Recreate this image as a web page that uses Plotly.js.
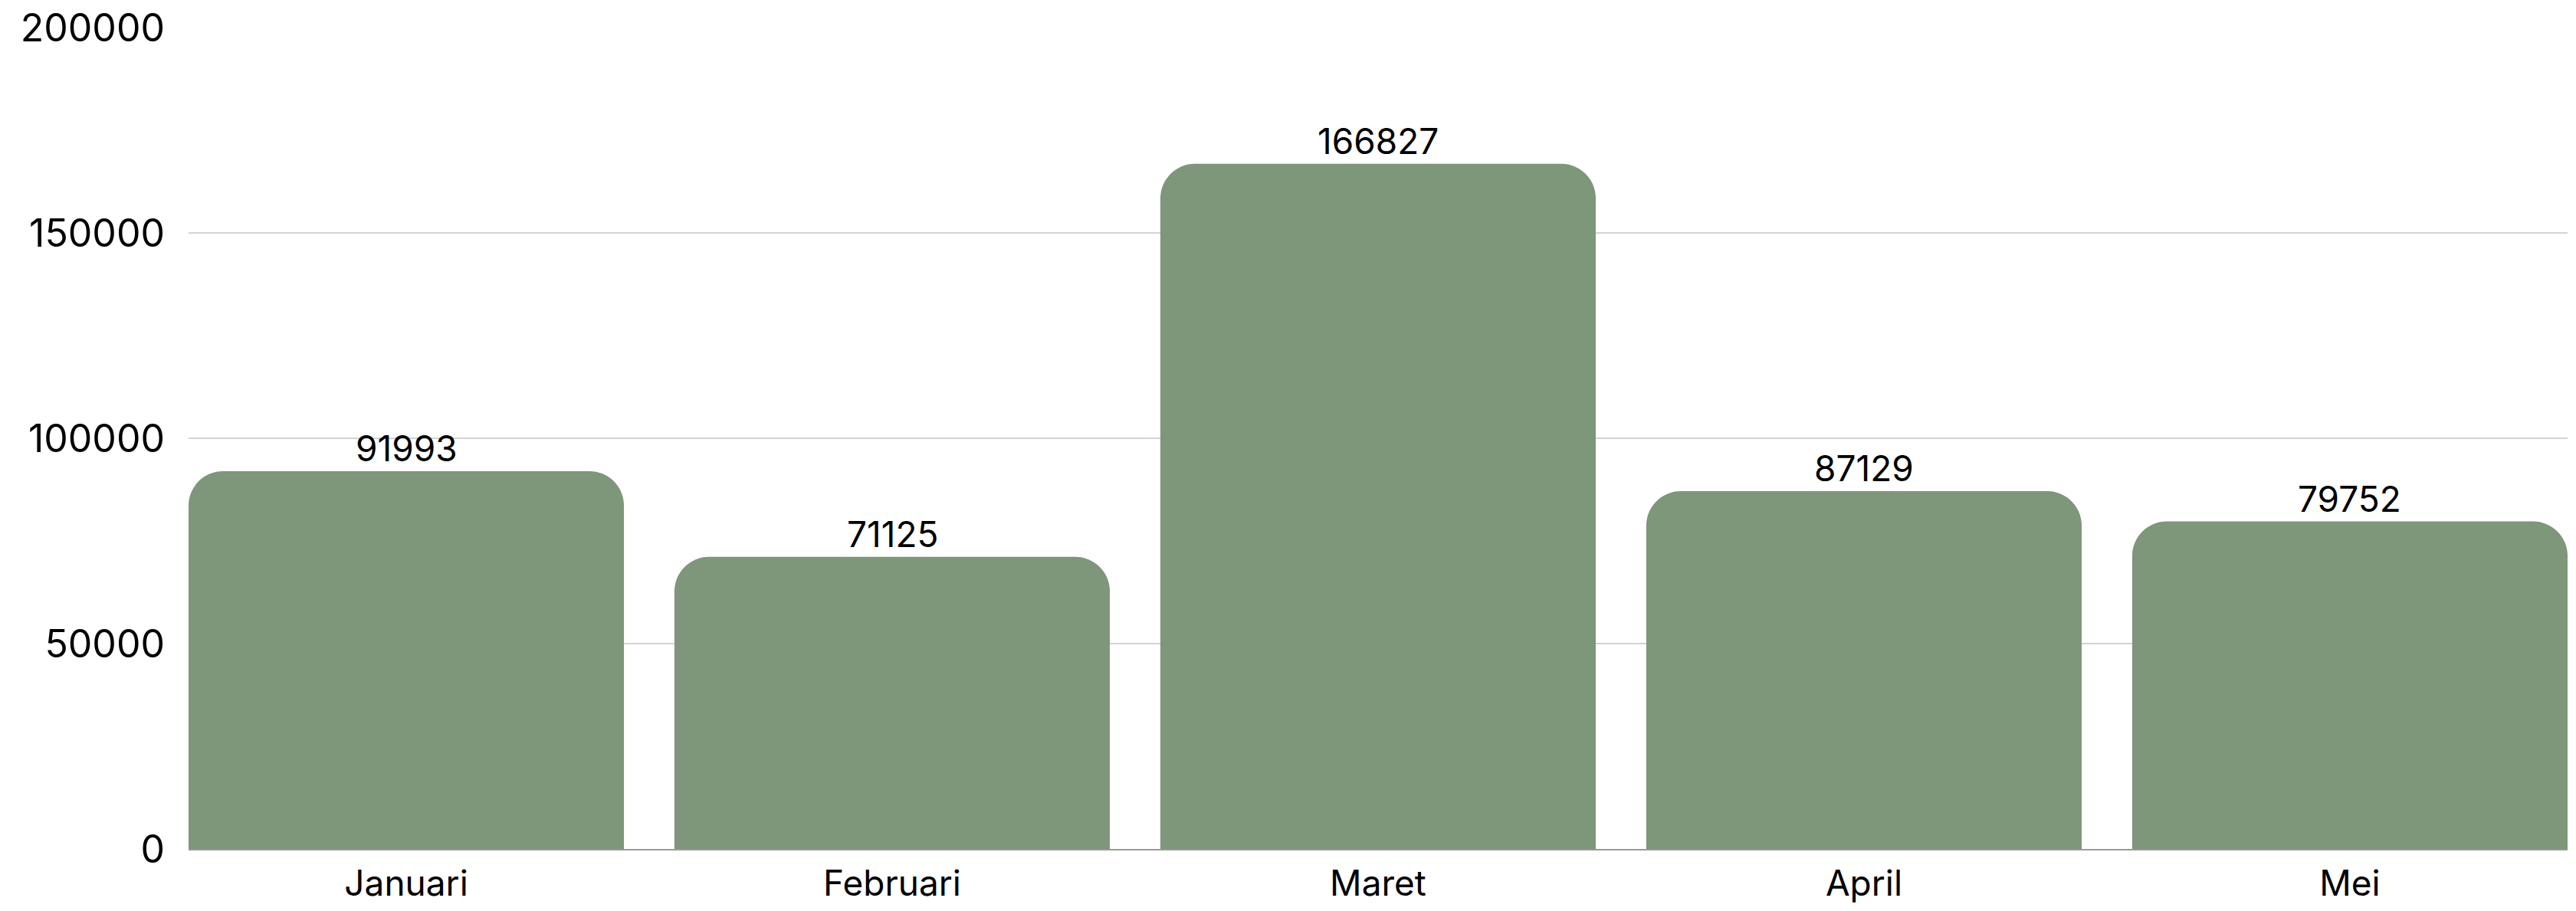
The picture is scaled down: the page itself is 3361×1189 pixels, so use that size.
<!DOCTYPE html>
<html>
<head>
<meta charset="utf-8">
<script src="https://cdn.plot.ly/plotly-3.0.1.min.js"></script>
<style>html,body{margin:0;padding:0;background:#fff}#chart{width:3361px;height:1189px}</style>
</head>
<body>
<div id="chart"></div>
<script>
const months = ["Januari", "Februari", "Maret", "April", "Mei"];
const values = [91993, 71125, 166827, 87129, 79752];
const yTicks = [0, 50000, 100000, 150000, 200000];

const FONT = "Inter, 'DejaVu Sans', sans-serif";
const BAR_COLOR = "#7E967A";

const trace = {
  type: "bar",
  x: months,
  y: values,
  marker: { color: BAR_COLOR, cornerradius: 45, line: { width: 0 } },
  hoverinfo: "skip"
};

const annotations = months.map((m, i) => ({
  x: m,
  y: values[i],
  text: String(values[i]),
  showarrow: false,
  yanchor: "bottom",
  yshift: 0,
  font: { family: FONT, size: 46, color: "#000" }
}));

const bargap = 0.104;
const layout = {
  width: 3361,
  height: 1189,
  margin: { l: 246, r: 11, t: 36, b: 81, pad: 0 },
  paper_bgcolor: "#fff",
  plot_bgcolor: "#fff",
  showlegend: false,
  bargap: bargap,
  font: { family: FONT, size: 46, color: "#000" },
  xaxis: {
    type: "category",
    range: [-(1 - bargap) / 2, months.length - 1 + (1 - bargap) / 2],
    showgrid: false,
    showline: true,
    linecolor: "#999999",
    linewidth: 2,
    ticks: "",
    tickfont: { family: FONT, size: 46, color: "#000" },
    ticklabelstandoff: 4,
    fixedrange: true
  },
  yaxis: {
    range: [0, 200000],
    tickvals: yTicks,
    ticktext: yTicks.map(String),
    showgrid: true,
    gridcolor: "#d3d3d3",
    gridwidth: 2,
    zeroline: false,
    showline: false,
    ticks: "",
    tickfont: { family: FONT, size: 50, color: "#000" },
    ticklabelstandoff: 30,
    fixedrange: true
  },
  annotations: annotations
};

Plotly.newPlot("chart", [trace], layout, { staticPlot: true, displayModeBar: false });
</script>
</body>
</html>
